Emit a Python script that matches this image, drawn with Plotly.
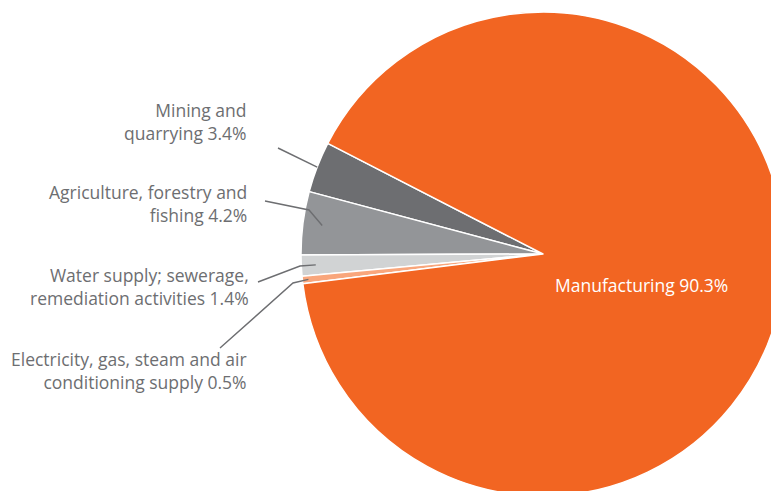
import math
import plotly.graph_objects as go

# Share of output by sector (%)
sectors = [
    "Mining and quarrying",
    "Agriculture, forestry and fishing",
    "Water supply; sewerage, remediation activities",
    "Electricity, gas, steam and air conditioning supply",
    "Manufacturing",
]
shares = [3.4, 4.2, 1.4, 0.5, 90.3]
label_text = [
    "Mining and<br>quarrying 3.4%",
    "Agriculture, forestry and<br>fishing 4.2%",
    "Water supply; sewerage,<br>remediation activities 1.4%",
    "Electricity, gas, steam and air<br>conditioning supply 0.5%",
    "Manufacturing 90.3%",
]
colors = ["#6d6e71", "#939598", "#d1d3d4", "#f9a67c", "#f26522"]

# Canvas in pixels; the pie is allowed to run past the visible page edge
W, H = 790, 500
CX, CY, R = 543, 254, 242
START = 152.8  # angle (deg, counter-clockwise from 3 o'clock) of the first slice's leading edge

TOTAL = sum(shares)
# plotly measures rotation clockwise from 12 o'clock and, for counter-clockwise
# pies, places the far edge of the first slice there
ROTATION = -((START - 90) + shares[0] / TOTAL * 360)

FONT = "Open Sans, Noto Sans, sans-serif"
FONT_SIZE = 17.5
TEXT_GREY = "#6d6e71"
LINE_GREY = "#6d6e71"


def px(x, y):
    """pixel position -> paper coordinates"""
    return x / W, 1 - y / H


def slice_point(i, rfrac):
    """point at fraction rfrac of the radius on the bisector of slice i"""
    before = sum(shares[:i]) / TOTAL * 360
    mid = START + before + shares[i] / TOTAL * 360 / 2
    a = math.radians(mid)
    return CX + R * rfrac * math.cos(a), CY - R * rfrac * math.sin(a)


fig = go.Figure(
    go.Pie(
        labels=sectors,
        values=shares,
        sort=False,
        direction="counterclockwise",
        rotation=ROTATION,
        marker=dict(colors=colors, line=dict(color="white", width=1.5)),
        textinfo="none",
        hoverinfo="label+percent",
        showlegend=False,
        domain=dict(
            x=[(CX - R) / W, (CX + R) / W],
            y=[1 - (CY + R) / H, 1 - (CY - R) / H],
        ),
    )
)

# Outside labels: (anchor radius fraction, optional elbow, leader end, label right edge, label centre y)
callouts = [
    (1.00, None, (278, 148), 249, 121),
    (0.92, (309, 210), (265, 201), 249, 204),
    (0.94, (300, 266), (258, 282), 251, 286.5),
    (0.975, (293, 283), (220, 348), 249, 370),
]

shapes = []
annotations = []
for i, (rf, elbow, end, right, cy) in enumerate(callouts):
    pts = [slice_point(i, rf)]
    if elbow:
        pts.append(elbow)
    pts.append(end)
    path = "M " + " L ".join(
        f"{px(x, y)[0]:.5f},{px(x, y)[1]:.5f}" for x, y in pts
    )
    shapes.append(
        dict(type="path", xref="paper", yref="paper", path=path,
             line=dict(color=LINE_GREY, width=1.4))
    )
    lx, ly = px(right, cy)
    annotations.append(
        dict(x=lx, y=ly, xref="paper", yref="paper", text=label_text[i],
             showarrow=False, xanchor="right", yanchor="middle", align="right",
             font=dict(family=FONT, size=FONT_SIZE, color=TEXT_GREY))
    )

# Label inside the large slice
mx, my = px(641, 285)
annotations.append(
    dict(x=mx, y=my, xref="paper", yref="paper", text=label_text[4],
         showarrow=False, xanchor="center", yanchor="middle",
         font=dict(family=FONT, size=FONT_SIZE, color="white"))
)

fig.update_layout(
    width=W,
    height=H,
    margin=dict(l=0, r=0, t=0, b=0),
    paper_bgcolor="white",
    plot_bgcolor="white",
    shapes=shapes,
    annotations=annotations,
)

fig.write_html(
    "out.html",
    config={"displayModeBar": False},
    post_script="document.documentElement.style.overflow='hidden';"
                "document.body.style.overflow='hidden';",
)
